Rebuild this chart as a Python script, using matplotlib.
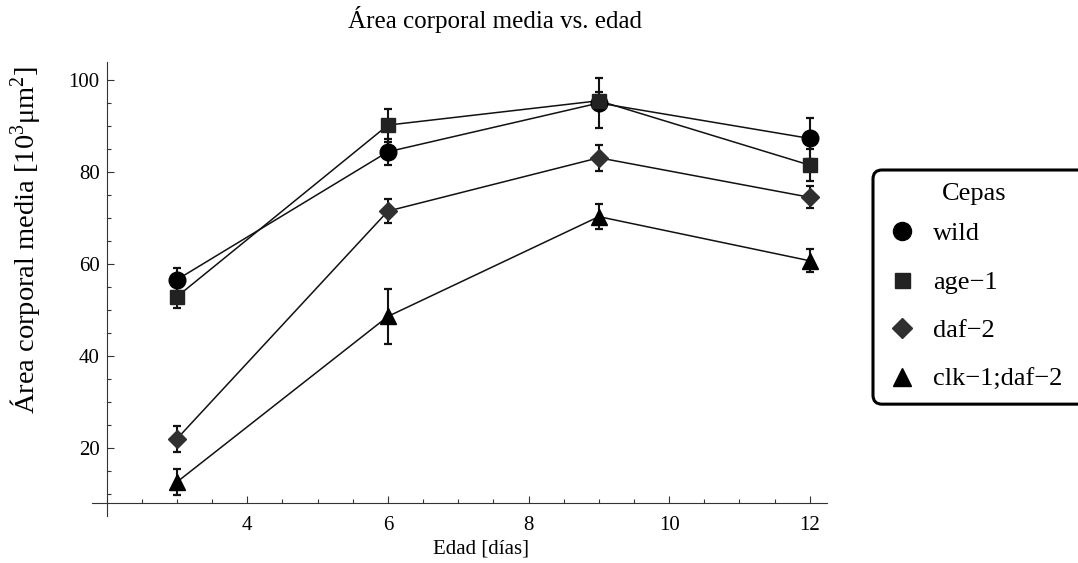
import numpy as np
import matplotlib
matplotlib.use('Agg')
import matplotlib.pyplot as plt
from matplotlib.lines import Line2D
from matplotlib.patches import FancyBboxPatch
from matplotlib.transforms import IdentityTransform
from matplotlib.ticker import MultipleLocator, FixedLocator

plt.rcParams['font.family'] = ['Liberation Serif', 'DejaVu Serif']
plt.rcParams['mathtext.fontset'] = 'custom'
plt.rcParams['mathtext.rm'] = 'Liberation Serif'
plt.rcParams['mathtext.it'] = 'Liberation Serif:italic'

# Data (dias, area media en 10^3 um^2)
dias = [3, 6, 9, 12]
strains = ['wild', 'age\u22121', 'daf\u22122', 'clk\u22121;daf\u22122']
wild = [56.6, 84.4, 95.0, 87.3]
wild_err = [2.5, 2.8, 5.4, 4.4]
age1 = [52.9, 90.2, 95.5, 81.5]
age1_err = [2.4, 3.6, 2.0, 3.5]
daf2 = [22.0, 71.5, 83.1, 74.5]
daf2_err = [2.8, 2.6, 2.8, 2.4]
clk1 = [12.6, 48.6, 70.3, 60.7]
clk1_err = [2.8, 5.9, 2.8, 2.5]

series = [wild, age1, daf2, clk1]
errors = [wild_err, age1_err, daf2_err, clk1_err]
markers = ['o', 's', 'D', '^']
msizes = [12, 10.3, 8.7, 12]
leg_sizes = [13, 10.8, 10, 13]
mcolors = ['#000000', '#222222', '#303030', '#000000']

fig = plt.figure(figsize=(10.78, 5.63), dpi=100)
ax = fig.add_axes([0.0853, 0.0835, 0.6815, 0.807])

for y, e, m, ms, c in zip(series, errors, markers, msizes, mcolors):
    ax.errorbar(dias, y, yerr=e, fmt='none', ecolor='#111111',
                elinewidth=1.5, capsize=3.2, capthick=1.6, zorder=2)
    ax.plot(dias, y, color='#111111', linewidth=1.1, zorder=1)
    ax.plot(dias, y, linestyle='none', marker=m, markersize=ms,
            color=c, markeredgecolor=c, zorder=3)

# Mathematica-like axes crossing at (2, 8)
ax.set_xlim(1.79, 12.24)
ax.set_ylim(5.2, 104)
for s in ['top', 'right']:
    ax.spines[s].set_visible(False)
ax.spines['left'].set_position(('data', 2))
ax.spines['bottom'].set_position(('data', 8))
for s in ['left', 'bottom']:
    ax.spines[s].set_linewidth(0.8)
    ax.spines[s].set_color('#333333')

ax.xaxis.set_major_locator(FixedLocator([4, 6, 8, 10, 12]))
ax.xaxis.set_minor_locator(MultipleLocator(0.5))
ax.yaxis.set_major_locator(FixedLocator([20, 40, 60, 80, 100]))
ax.yaxis.set_minor_locator(FixedLocator(np.arange(10, 101, 5)))
ax.tick_params(axis='both', which='both', direction='in', color='#333333', width=0.8)
ax.tick_params(axis='both', which='major', length=5, labelsize=15)
ax.tick_params(axis='both', which='minor', length=3)
ax.tick_params(axis='x', which='major', pad=9)
ax.tick_params(axis='y', which='major', pad=5)

fig.text(495 / 1078, 1 - 28 / 563, '\u00c1rea corporal media vs. edad',
         ha='center', va='baseline', fontsize=18)
fig.text(481 / 1078, 1 - 549 / 563, 'Edad [d\u00edas]',
         ha='center', va='center', fontsize=15)
fig.text(25 / 1078, 1 - 240 / 563,
         '\u00c1rea corporal media [10$^3$\u03bcm$^2$]',
         ha='center', va='center', rotation=90, fontsize=20.5)

# Legend (frame drawn separately so it runs off the right edge)
handles = [Line2D([], [], linestyle='none', marker=m, markersize=ms,
                  color=c, markeredgecolor=c)
           for m, ms, c in zip(markers, leg_sizes, mcolors)]
leg = fig.legend(handles, strains, title='Cepas', loc='upper left',
                 bbox_to_anchor=(873 / 1078, 1 - 170 / 563),
                 borderaxespad=0, fontsize=19, title_fontsize=19,
                 handlelength=1.22, handletextpad=0.57, borderpad=0.5,
                 labelspacing=0.95, frameon=False)
leg._legend_box.sep = 12

fig.canvas.draw()
bb = leg.get_window_extent()
frame = FancyBboxPatch((bb.x0, bb.y0), 1110 - bb.x0, bb.y1 - bb.y0,
                       boxstyle='round,pad=0,rounding_size=9',
                       transform=IdentityTransform(), facecolor='white',
                       edgecolor='black', linewidth=2.2, zorder=-1)
fig.patches.append(frame)

fig.savefig('out.png', dpi=100)
